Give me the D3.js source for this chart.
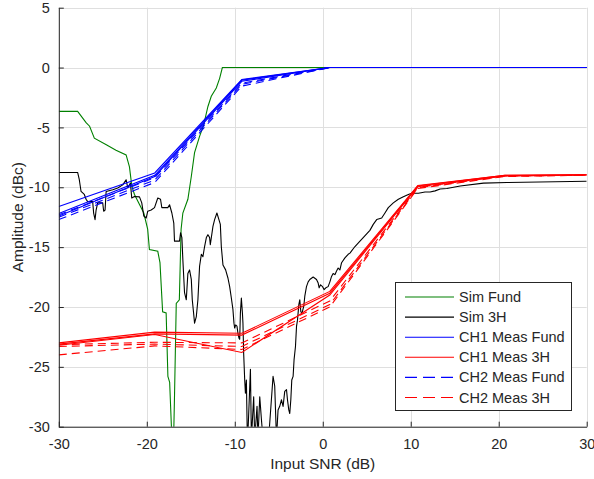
<!DOCTYPE html>
<html>
<head>
<meta charset="utf-8">
<script src="https://cdn.jsdelivr.net/npm/d3@7"></script>
<style>
  body { margin: 0; background: #fff; }
  svg { display: block; }
  text { font-family: "Liberation Sans", Arial, sans-serif; fill: #262626; }
</style>
</head>
<body>
<svg id="chart" width="594" height="479"></svg>
<script>
// Axis ticks
const xTicks = [-30, -20, -10, 0, 10, 20, 30];
const yTicks = [5, 0, -5, -10, -15, -20, -25, -30];

// Simulated fundamental amplitude vs input SNR: [SNR dB, dBc]
const simFund = [
  [-30, -3.66], [-27.86, -3.66], [-26.9, -4.6], [-26.5, -4.9], [-25.96, -5.9],
  [-24.6, -6.45], [-23.5, -6.9], [-22.35, -7.3], [-21.97, -8.3], [-21.7, -9.9],
  [-21.4, -10.6], [-20.34, -12.15], [-19.9, -13.5], [-19.7, -15.2], [-18.75, -15.35],
  [-18.5, -16.3], [-18.2, -20.4], [-17.8, -20.5], [-17.6, -25.8], [-17.4, -26.3],
  [-17.2, -30], [-17.1, -32], [-16.95, -31], [-16.85, -27.5], [-16.65, -19.7],
  [-16.3, -19.4], [-16.1, -13.5], [-15.9, -12.15], [-15.33, -11.0], [-14.94, -9.1],
  [-14.57, -7.1], [-14.0, -5.75], [-13.54, -4.8], [-13.05, -3.25], [-12.67, -2.4],
  [-12.1, -1.7], [-11.72, -0.9], [-11.41, 0], [30, 0]
];

// Simulated third harmonic vs input SNR: [SNR dB, dBc]
const sim3H = [
  [-30, -8.76], [-27.86, -8.76], [-27.67, -9.37], [-27.47, -10.35], [-27.10, -10.6],
  [-26.90, -11.0], [-26.72, -11.2], [-26.15, -11.2], [-26.04, -12.15], [-25.88, -12.7],
  [-25.76, -11.9], [-25.58, -11.3], [-25.01, -11.3], [-24.90, -12.0], [-24.74, -11.9],
  [-24.62, -10.35], [-23.87, -10.2], [-23.30, -10.06], [-22.73, -9.8], [-22.35, -9.37],
  [-22.16, -10.06], [-21.86, -9.65], [-21.71, -10.9], [-21.40, -10.77], [-20.83, -10.8],
  [-20.57, -11.3], [-20.34, -12.4], [-20.07, -12.57], [-19.89, -12.0], [-19.50, -11.9],
  [-19.12, -11.7], [-18.75, -10.9], [-18.44, -11.0], [-18.29, -11.7], [-17.61, -11.7],
  [-17.41, -11.46], [-17.15, -12.15], [-16.93, -13.0], [-16.85, -14.5], [-16.28, -14.5],
  [-16.16, -13.8], [-16.01, -14.2], [-15.90, -16.05], [-15.71, -18.8], [-15.51, -19.4],
  [-15.33, -17.2], [-15.14, -16.9], [-14.94, -17.7], [-14.83, -19.4], [-14.68, -20.5],
  [-14.57, -21.35], [-14.37, -20.8], [-14.19, -19.4], [-14.00, -16.6], [-13.80, -15.6],
  [-13.62, -15.8], [-13.43, -14.95], [-13.23, -14.2], [-13.05, -13.96], [-12.86, -14.2],
  [-12.78, -14.8], [-12.48, -13.27], [-12.29, -12.7], [-12.03, -12.15], [-11.80, -12.7],
  [-11.64, -13.1], [-11.53, -14.95], [-11.34, -16.5], [-11.04, -16.9], [-10.77, -17.6],
  [-10.58, -18.3], [-10.39, -19.25], [-10.21, -20.2], [-10.09, -21.35], [-10.01, -21.76],
  [-9.90, -21.5], [-9.75, -21.6], [-9.64, -22.2], [-9.52, -22.6], [-9.44, -22.7],
  [-9.36, -20.5], [-9.25, -19.25], [-9.13, -20.5], [-9.07, -21.35], [-8.99, -23.85],
  [-8.87, -26.1], [-8.79, -27.2], [-8.68, -26.1], [-8.57, -31], [-8.50, -30.5],
  [-8.22, -25.2], [-8.11, -31], [-7.85, -27.5], [-7.73, -31], [-7.47, -28.3],
  [-7.36, -31], [-7.16, -27.5], [-6.97, -29.4], [-6.79, -31], [-6.2, -31.5],
  [-5.65, -25.8], [-5.46, -26.6], [-5.26, -31], [-5.08, -28.6], [-4.89, -28.3],
  [-4.69, -27.75], [-4.51, -28.3], [-4.32, -27.05], [-4.12, -26.9], [-4.01, -27.75],
  [-3.86, -28.6], [-3.75, -28.9], [-3.63, -27.75], [-3.52, -26.1], [-3.37, -25.8],
  [-3.26, -24.4], [-3.10, -23.3], [-2.98, -21.6], [-2.87, -21.1], [-2.72, -19.8],
  [-2.61, -19.4], [-2.49, -20.4], [-2.35, -20.5], [-2.15, -19.9], [-2.04, -19.1],
  [-1.85, -18.3], [-1.66, -17.9], [-1.47, -17.7], [-1.28, -17.6], [-1.09, -17.5],
  [-0.90, -17.6], [-0.71, -17.7], [-0.52, -18.0], [-0.41, -18.4], [-0.25, -18.15],
  [-0.02, -18.3], [0.16, -18.55], [0.35, -18.4], [0.61, -18.3], [0.81, -17.9],
  [1.00, -17.45], [1.18, -17.2], [1.38, -17.3], [1.57, -17.0], [1.75, -16.75],
  [1.95, -16.9], [2.14, -16.3], [2.52, -15.9], [2.89, -15.6], [3.09, -15.5],
  [3.66, -14.95], [4.23, -14.5], [4.6, -14.2], [5.36, -13.6], [5.74, -13.1],
  [6.13, -12.7], [6.70, -12.57], [7.07, -12.15], [7.45, -11.7], [8.02, -11.3],
  [8.59, -11.0], [9.16, -10.8], [9.73, -10.6], [10.11, -10.5], [10.87, -10.5],
  [11.63, -10.4], [12.20, -10.4], [12.77, -10.3], [13.34, -10.15], [14.10, -10.1],
  [15.62, -9.9], [18.27, -9.65], [20.93, -9.6], [30, -9.5]
];

// Measured input SNR steps
const measSNR = [-30, -19.1, -9.2, 0.8, 10.8, 20.7, 30];

// Channel 1 measurements (several runs each)
const ch1Fund = [
  [-11.6, -8.8, -1.0, 0, 0, 0, 0],
  [-12.2, -9.0, -1.05, 0, 0, 0, 0],
  [-12.4, -9.1, -1.15, 0, 0, 0, 0]
];
const ch1ThirdH = [
  [-23.0, -22.1, -22.2, -18.7, -9.85, -9.0, -8.95],
  [-23.1, -22.25, -22.35, -18.85, -9.9, -9.0, -8.95],
  [-23.2, -22.3, -23.8, -19.0, -9.95, -9.05, -8.95]
];

// Channel 2 measurements (several runs each)
const ch2Fund = [
  [-12.3, -9.2, -1.3, 0, 0, 0, 0],
  [-12.5, -9.4, -1.4, 0, 0, 0, 0],
  [-12.7, -9.6, -1.55, 0, 0, 0, 0]
];
const ch2ThirdH = [
  [-23.15, -22.95, -23.0, -19.5, -10.0, -9.05, -9.0],
  [-23.3, -23.1, -23.3, -19.8, -10.05, -9.05, -9.0],
  [-24.0, -23.25, -23.55, -20.0, -10.1, -9.1, -9.0]
];

const legendNames = ["Sim Fund", "Sim 3H", "CH1 Meas Fund", "CH1 Meas 3H", "CH2 Meas Fund", "CH2 Meas 3H"];
const legendColors = ["#008000", "#000000", "#0000ff", "#ff0000", "#0000ff", "#ff0000"];
const legendDashed = [false, false, false, false, true, true];

const svg = d3.select("#chart");
const plotLeft = 58.8, plotRight = 586.7, plotTop = 7.7, plotBottom = 426.7;
const x = d3.scaleLinear().domain([-30, 30]).range([plotLeft, plotRight]);
const y = d3.scaleLinear().domain([-30, 5]).range([plotBottom, plotTop]);

const axisColor = "#262626";
const gridColor = "#dfdfdf";
const dash = "8,5";

// grid
const grid = svg.append("g");
grid.selectAll("line.gx").data(xTicks).join("line").attr("class", "gx")
  .attr("x1", d => Math.round(x(d)) + 0.5).attr("x2", d => Math.round(x(d)) + 0.5)
  .attr("y1", plotTop).attr("y2", plotBottom)
  .attr("stroke", gridColor).attr("stroke-width", 1);
grid.selectAll("line.gy").data(yTicks).join("line").attr("class", "gy")
  .attr("y1", d => Math.round(y(d)) + 0.5).attr("y2", d => Math.round(y(d)) + 0.5)
  .attr("x1", plotLeft).attr("x2", plotRight)
  .attr("stroke", gridColor).attr("stroke-width", 1);

// clipping to the plot area
svg.append("defs").append("clipPath").attr("id", "plotClip")
  .append("rect").attr("x", plotLeft).attr("y", plotTop)
  .attr("width", plotRight - plotLeft).attr("height", plotBottom - plotTop);

const plot = svg.append("g").attr("clip-path", "url(#plotClip)");
const line = d3.line().x(d => x(d[0])).y(d => y(d[1]));
const measLine = vals => line(vals.map((v, i) => [measSNR[i], v]));

plot.append("path").attr("d", line(simFund))
  .attr("fill", "none").attr("stroke", legendColors[0]).attr("stroke-width", 1.1);
plot.append("path").attr("d", line(sim3H))
  .attr("fill", "none").attr("stroke", legendColors[1]).attr("stroke-width", 1.1)
  .attr("stroke-linejoin", "round");

function drawRuns(runs, color, dashed) {
  runs.forEach(r => {
    plot.append("path").attr("d", measLine(r))
      .attr("fill", "none").attr("stroke", color).attr("stroke-width", 1.1)
      .attr("stroke-dasharray", dashed ? dash : null);
  });
}
drawRuns(ch1Fund, legendColors[2], false);
drawRuns(ch1ThirdH, legendColors[3], false);
drawRuns(ch2Fund, legendColors[4], true);
drawRuns(ch2ThirdH, legendColors[5], true);

// axes
const xAxis = d3.axisBottom(x).tickValues(xTicks).tickSizeInner(-5).tickSizeOuter(0)
  .tickFormat(d => String(d)).tickPadding(12);
const yAxis = d3.axisLeft(y).tickValues(yTicks).tickSizeInner(-5).tickSizeOuter(0)
  .tickFormat(d => String(d)).tickPadding(9);

const gx = svg.append("g").attr("transform", `translate(0,${plotBottom})`).call(xAxis);
const gy = svg.append("g").attr("transform", `translate(${plotLeft},0)`).call(yAxis);
[gx, gy].forEach(g => {
  g.select(".domain").attr("stroke", axisColor).attr("stroke-width", 1);
  g.selectAll(".tick line").attr("stroke", axisColor);
  g.selectAll(".tick text").attr("fill", axisColor)
    .style("font-family", '"Liberation Sans", Arial, sans-serif').style("font-size", "14.5px");
});

// axis labels
svg.append("text").attr("x", (plotLeft + plotRight) / 2).attr("y", 469)
  .attr("text-anchor", "middle").style("font-size", "15.5px").text("Input SNR (dB)");
svg.append("text").attr("transform", `translate(23,${(plotTop + plotBottom) / 2}) rotate(-90)`)
  .attr("text-anchor", "middle").style("font-size", "15.5px").text("Amplitude (dBc)");

// legend
const lg = svg.append("g");
lg.append("rect").attr("x", 395.5).attr("y", 282.5).attr("width", 176).attr("height", 128)
  .attr("fill", "#fff").attr("stroke", axisColor).attr("stroke-width", 1);
const rowY = i => 297 + i * 20.1;
legendNames.forEach((name, i) => {
  lg.append("line").attr("x1", 405).attr("x2", 454)
    .attr("y1", rowY(i)).attr("y2", rowY(i))
    .attr("stroke", legendColors[i]).attr("stroke-width", 1.1)
    .attr("stroke-dasharray", legendDashed[i] ? "12,6" : null);
  lg.append("text").attr("x", 459).attr("y", rowY(i)).attr("dy", "0.35em")
    .style("font-size", "14.5px").text(name);
});
</script>
</body>
</html>
